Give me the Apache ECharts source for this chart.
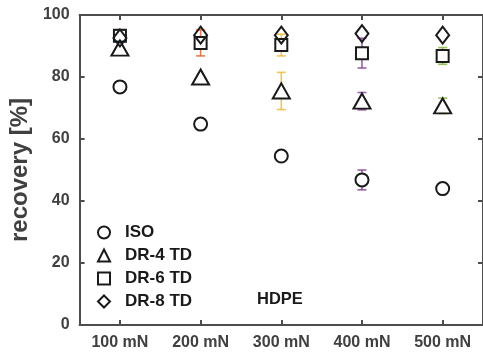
<!DOCTYPE html>
<html><head><meta charset="utf-8">
<script src="https://cdn.jsdelivr.net/npm/echarts@6/dist/echarts.min.js"></script>
<style>html,body{margin:0;padding:0;background:#fff}#c{width:483px;height:355px}</style>
</head><body><div id="c"></div>
<script>
const forces = [100, 200, 300, 400, 500];
const forceLabels = ['100 mN', '200 mN', '300 mN', '400 mN', '500 mN'];
const catColors = ['#0072BD', '#D95319', '#EDB120', '#7E2F8E', '#77AC30'];
const seriesNames = ['ISO', 'DR-4 TD', 'DR-6 TD', 'DR-8 TD'];
const isoMean = [76.8, 64.8, 54.5, 46.8, 44.0];
const isoErr  = [0.5, 0.5, 0.5, 3.2, 1.0];
const dr4Mean = [89.3, 80.0, 75.5, 72.2, 70.7];
const dr4Err  = [1.5, 2.0, 6.0, 2.8, 2.5];
const dr6Mean = [93.3, 91.0, 90.3, 87.7, 86.8];
const dr6Err  = [1.8, 4.2, 3.5, 4.8, 2.7];
const dr8Mean = [92.6, 93.5, 93.5, 94.0, 93.5];
const dr8Err  = [1.0, 0.6, 0.6, 1.0, 1.0];
const yTicks = [0, 20, 40, 60, 80, 100];

const means = [isoMean, dr4Mean, dr6Mean, dr8Mean];
const errs = [isoErr, dr4Err, dr6Err, dr8Err];
const symbols = ['circle', 'triangle', 'rect', 'diamond'];
const sizes = [[13,13], [17,15], [12,12], [13,17]];
const FONT = 'Liberation Sans, Arial, sans-serif';

const chart = echarts.init(document.getElementById('c'));
const series = [];
means.forEach((m, si) => {
  const half = sizes[si][1] / 2;
  series.push({
    type: 'custom', name: seriesNames[si] + ' err', silent: true, z: 2,
    data: forces.map((f, i) => [f, m[i] - errs[si][i], m[i] + errs[si][i], i, m[i]]),
    renderItem: function (params, api) {
      const x = api.value(0);
      const lo = api.coord([x, api.value(1)]);
      const hi = api.coord([x, api.value(2)]);
      const c = api.coord([x, api.value(4)]);
      const col = catColors[api.value(3)];
      const w = 4.5;
      const st = { stroke: col, lineWidth: 1.6, opacity: 0.75 };
      const ch = [];
      if (lo[1] > c[1] + half - 1) {
        ch.push({ type: 'line', shape: { x1: lo[0]-w, y1: lo[1], x2: lo[0]+w, y2: lo[1] }, style: st });
        ch.push({ type: 'line', shape: { x1: lo[0], y1: lo[1], x2: lo[0], y2: c[1] + half }, style: st });
      }
      if (hi[1] < c[1] - half + 1) {
        ch.push({ type: 'line', shape: { x1: hi[0]-w, y1: hi[1], x2: hi[0]+w, y2: hi[1] }, style: st });
        ch.push({ type: 'line', shape: { x1: hi[0], y1: hi[1], x2: hi[0], y2: c[1] - half }, style: st });
      }
      return { type: 'group', children: ch };
    }
  });
});
means.forEach((m, si) => {
  series.push({
    type: 'scatter', name: seriesNames[si], z: 5,
    symbol: symbols[si], symbolSize: sizes[si],
    itemStyle: { color: 'rgba(255,255,255,0)', borderColor: '#1a1a1a', borderWidth: 2, opacity: 1 },
    data: forces.map((f, i) => [f, m[i]])
  });
});

chart.setOption({
  animation: false,
  grid: { left: 75, right: -4, top: 15, bottom: 30, containLabel: false },
  xAxis: [{
    type: 'value', min: 50, max: 550, interval: 50, position: 'bottom',
    axisLine: { lineStyle: { color: '#4d4d4d', width: 2 } },
    axisTick: { inside: true, length: 5, lineStyle: { color: '#4d4d4d', width: 2 },
      customValues: forces },
    axisLabel: { customValues: forces, color: '#404040', fontSize: 16, fontWeight: 'bold',
      fontFamily: FONT, margin: 10,
      formatter: v => forceLabels[forces.indexOf(v)] || '' },
    splitLine: { show: false }
  }, {
    type: 'value', min: 50, max: 550, position: 'top',
    axisLine: { show: true, onZero: false, lineStyle: { color: '#4d4d4d', width: 2 } },
    axisTick: { show: true, inside: true, length: 5, lineStyle: { color: '#4d4d4d', width: 2 }, customValues: forces },
    axisLabel: { show: false }, splitLine: { show: false }
  }],
  yAxis: [{
    type: 'value', min: 0, max: 100, interval: 20,
    name: 'recovery [%]', nameLocation: 'middle', nameGap: 40,
    nameTextStyle: { color: '#404040', fontSize: 24, fontWeight: 'bold', fontFamily: FONT },
    axisLine: { show: true, lineStyle: { color: '#4d4d4d', width: 2 } },
    axisTick: { show: true, inside: true, length: 5, lineStyle: { color: '#4d4d4d', width: 2 } },
    axisLabel: { color: '#404040', fontSize: 16, fontWeight: 'bold', margin: 10,
      fontFamily: FONT,
      formatter: v => yTicks.includes(v) ? String(v) : '' },
    splitLine: { show: false }
  }, {
    type: 'value', min: 0, max: 100, interval: 20, position: 'right',
    axisLine: { show: true, onZero: false, lineStyle: { color: '#4d4d4d', width: 2 } },
    axisTick: { show: true, inside: true, length: 5, lineStyle: { color: '#4d4d4d', width: 2 } },
    axisLabel: { show: false }, splitLine: { show: false }
  }],
  legend: {
    orient: 'vertical', left: 97, top: 224, padding: 0, itemGap: 6, itemWidth: 12, itemHeight: 12,
    data: seriesNames,
    textStyle: { color: '#1a1a1a', fontSize: 17, fontWeight: 'bold', fontFamily: FONT, padding: [0,0,0,10] }
  },
  graphic: [{
    type: 'text', left: 257, top: 291,
    style: { text: 'HDPE', fill: '#1a1a1a', font: 'bold 16.5px "Liberation Sans", Arial, sans-serif' }
  }],
  series: series
});
</script></body></html>
